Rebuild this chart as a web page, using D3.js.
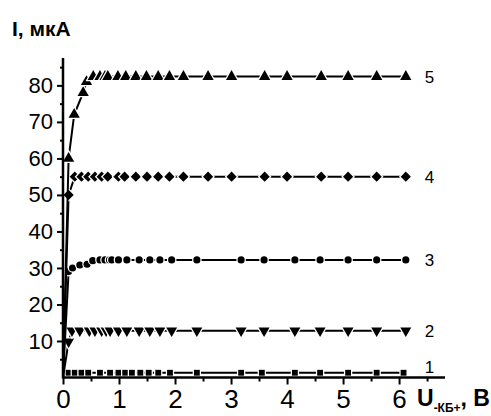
<!DOCTYPE html>
<html>
<head>
<meta charset="utf-8">
<script src="https://cdn.jsdelivr.net/npm/d3@7"></script>
<style>
  html, body { margin: 0; padding: 0; background: #fff; }
  svg { display: block; font-family: "Liberation Sans", Arial, sans-serif; }
</style>
</head>
<body>
<svg id="chart" width="491" height="416"></svg>
<script>
// Output characteristics: collector current vs collector–base voltage
const xTicks = [0, 1, 2, 3, 4, 5, 6];
const xMinorTicks = [0.5, 1.5, 2.5, 3.5, 4.5, 5.5, 6.5];
const yTicks = [10, 20, 30, 40, 50, 60, 70, 80];
const yMinorTicks = [5, 15, 25, 35, 45, 55, 65, 75, 85];

const x5 = [0, 0.1, 0.2, 0.36, 0.42, 0.54, 0.66, 0.75, 0.8, 0.98, 1.12, 1.3, 1.49, 1.7, 1.9, 2.15, 2.59, 3.01, 3.6, 4.0, 4.61, 5.09, 5.6, 6.12];
const y5 = [0, 60, 72, 78, 81, 82.4, 82.4, 82.4, 82.4, 82.4, 82.4, 82.4, 82.4, 82.4, 82.4, 82.4, 82.4, 82.4, 82.4, 82.4, 82.4, 82.4, 82.4, 82.4];

const x4 = [0, 0.1, 0.21, 0.33, 0.45, 0.57, 0.69, 0.8, 0.99, 1.1, 1.3, 1.5, 1.7, 1.9, 2.15, 2.59, 3.01, 3.6, 4.0, 4.61, 5.09, 5.6, 6.12];
const y4 = [0, 50, 55, 55, 55, 55, 55, 55, 55, 55, 55, 55, 55, 55, 55, 55, 55, 55, 55, 55, 55, 55, 55];

const x3 = [0, 0.1, 0.17, 0.3, 0.43, 0.53, 0.66, 0.75, 0.83, 0.87, 0.99, 1.14, 1.36, 1.55, 1.73, 1.94, 2.39, 3.18, 3.59, 4.14, 4.59, 5.09, 5.6, 6.12];
const y3 = [0, 29, 30, 30.8, 31, 32, 32.2, 32.2, 32.2, 32.2, 32.2, 32.2, 32.2, 32.2, 32.2, 32.2, 32.2, 32.2, 32.2, 32.2, 32.2, 32.2, 32.2, 32.2];

const x2 = [0, 0.1, 0.16, 0.3, 0.47, 0.57, 0.69, 0.77, 0.84, 0.99, 1.14, 1.36, 1.55, 1.73, 1.94, 2.39, 3.18, 3.59, 4.14, 4.59, 5.09, 5.6, 6.12];
const y2 = [0, 9.8, 12.8, 12.8, 12.8, 12.8, 12.8, 12.8, 12.8, 12.8, 12.8, 12.8, 12.8, 12.8, 12.8, 12.8, 12.8, 12.8, 12.8, 12.8, 12.8, 12.8, 12.8];

const x1 = [0, 0.1, 0.21, 0.33, 0.45, 0.66, 0.84, 0.99, 1.11, 1.23, 1.38, 1.53, 1.7, 1.91, 2.39, 3.18, 3.55, 4.14, 4.59, 5.09, 5.6, 6.08];
const y1 = [0, 1.3, 1.3, 1.3, 1.3, 1.3, 1.3, 1.3, 1.3, 1.3, 1.3, 1.3, 1.3, 1.3, 1.3, 1.3, 1.3, 1.3, 1.3, 1.3, 1.3, 1.3];

const curveLabels = ["1", "2", "3", "4", "5"];

const series = [
  { xs: x1, ys: y1, marker: "square",   label: curveLabels[0] },
  { xs: x2, ys: y2, marker: "triDown",  label: curveLabels[1] },
  { xs: x3, ys: y3, marker: "circle",   label: curveLabels[2] },
  { xs: x4, ys: y4, marker: "diamond",  label: curveLabels[3] },
  { xs: x5, ys: y5, marker: "triUp",    label: curveLabels[4] }
];

const svg = d3.select("#chart");
const x = d3.scaleLinear().domain([0, 6.82]).range([63, 445]);
const y = d3.scaleLinear().domain([0, 87.5]).range([377.5, 58]);

// Marker shapes (diamond = square turned by 45°, triangle-down = triangle turned by 180°)
const symbolFor = {
  square:  d3.symbol().type(d3.symbolSquare).size(34),
  triDown: d3.symbol().type(d3.symbolTriangle).size(52),
  circle:  d3.symbol().type(d3.symbolCircle).size(40),
  diamond: d3.symbol().type(d3.symbolSquare).size(52),
  triUp:   d3.symbol().type(d3.symbolTriangle).size(55)
};
const rotationFor = { square: 0, triDown: 180, circle: 0, diamond: 45, triUp: 0 };

const line = d3.line().x(d => x(d[0])).y(d => y(d[1]));

series.forEach(s => {
  const pts = s.xs.map((v, i) => [v, s.ys[i]]);
  svg.append("path")
    .attr("d", line(pts))
    .attr("fill", "none")
    .attr("stroke", "#000")
    .attr("stroke-width", 2);
  svg.append("g")
    .selectAll("path")
    .data(pts.slice(1))
    .join("path")
    .attr("d", symbolFor[s.marker]())
    .attr("transform", d => `translate(${x(d[0])},${y(d[1])}) rotate(${rotationFor[s.marker]})`)
    .attr("fill", "#000")
    .attr("stroke", "#fff")
    .attr("stroke-width", 2.5)
    .attr("paint-order", "stroke");
  const last = pts[pts.length - 1];
  svg.append("text")
    .attr("x", x(6.12) + 19)
    .attr("y", s.label === "1" ? y(0) - 5 : y(last[1]) + 6)
    .attr("font-size", 17)
    .text(s.label);
});

// Axes
const xAxis = d3.axisBottom(x).tickValues(xTicks).tickSize(7).tickPadding(5).tickFormat(d3.format("d"));
const gx = svg.append("g").attr("transform", `translate(0,${y(0)})`).call(xAxis);
gx.select(".domain").attr("stroke-width", 2.5).attr("d", `M${x(0)},0H445`);
gx.selectAll(".tick line").attr("stroke-width", 2);
gx.selectAll(".tick text").attr("font-size", 26).attr("font-family", "Liberation Sans, Arial, sans-serif");
const gxm = svg.append("g").attr("transform", `translate(0,${y(0)})`)
  .call(d3.axisBottom(x).tickValues(xMinorTicks).tickSize(4).tickFormat(""));
gxm.select(".domain").remove();
gxm.selectAll(".tick line").attr("stroke-width", 2);

const yAxis = d3.axisLeft(y).tickValues(yTicks).tickSize(6).tickPadding(4);
const gy = svg.append("g").attr("transform", `translate(${x(0)},0)`).call(yAxis);
gy.select(".domain").attr("stroke-width", 2.5).attr("d", `M0,${y(0) + 1}V58`);
gy.selectAll(".tick line").attr("stroke-width", 2);
gy.selectAll(".tick text").attr("font-size", 22).attr("font-family", "Liberation Sans, Arial, sans-serif");
const gym = svg.append("g").attr("transform", `translate(${x(0)},0)`)
  .call(d3.axisLeft(y).tickValues(yMinorTicks).tickSize(3).tickFormat(""));
gym.select(".domain").remove();
gym.selectAll(".tick line").attr("stroke-width", 2);

// Axis titles
svg.append("text")
  .attr("x", 12).attr("y", 36)
  .attr("font-size", 21).attr("font-weight", "bold")
  .text("I, мкА");

const xt = svg.append("text")
  .attr("x", 417).attr("y", 406)
  .attr("font-size", 23).attr("font-weight", "bold");
xt.append("tspan").text("U");
xt.append("tspan").attr("font-size", 12).attr("dy", 6).text("-КБ+");
xt.append("tspan").attr("dy", -6).text(", В");
</script>
</body>
</html>
